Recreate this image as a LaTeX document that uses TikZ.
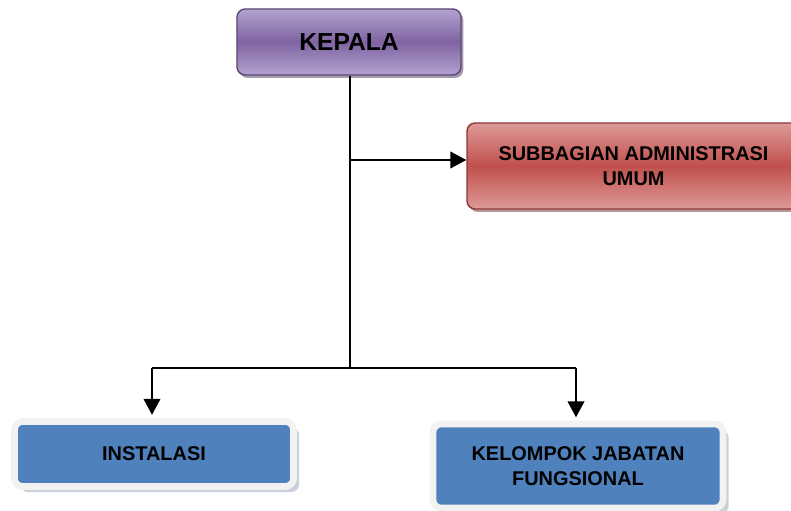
\documentclass[tikz,border=0pt]{standalone}
\usepackage{fontspec}
\setmainfont{Liberation Sans}
\usetikzlibrary{positioning,shadows,arrows.meta}
\definecolor{unguk}{HTML}{8064A2}
\definecolor{ungum}{HTML}{B3A2CF}
\definecolor{ungug}{HTML}{5C4776}
\definecolor{merahk}{HTML}{C0504D}
\definecolor{merahm}{HTML}{DE9A98}
\definecolor{merahg}{HTML}{8C3836}
\definecolor{birud}{HTML}{4F81BD}
\definecolor{tepi}{HTML}{F2F2F2}
\definecolor{bayang}{HTML}{97A3B6}

\begin{document}
\begin{tikzpicture}[x=0.03cm,y=-0.03cm,
    kotak/.style={rounded corners=7pt, align=center, inner sep=0pt,
      font=\bfseries\fontsize{17}{21}\selectfont},
    ungu/.style={kotak, draw=ungug, line width=1.2pt, top color=ungum, bottom color=ungum,
      middle color=unguk, drop shadow={shadow xshift=2pt, shadow yshift=-2.5pt, fill=ungug!80!black}},
    merah/.style={kotak, draw=merahg, line width=1.2pt, top color=merahm, bottom color=merahm,
      middle color=merahk, drop shadow={shadow xshift=2pt, shadow yshift=-2.5pt, fill=merahg!80!black}},
    biru/.style={kotak, draw=tepi, line width=0.2cm, fill=birud,
      drop shadow={shadow xshift=0.17cm, shadow yshift=-0.17cm, fill=bayang}},
    garis/.style={line width=1.6pt},
    panah/.style={garis, -{Triangle[length=0.48cm,width=0.5cm]}}]
  \useasboundingbox (0,0) rectangle (791,511);
        \node [ungu, minimum width=6.72cm, minimum height=1.98cm,
          font=\bfseries\fontsize{21}{24}\selectfont] (1) at (349,42) {KEPALA};
        \node [merah, minimum width=9.99cm, minimum height=2.58cm] (2) at (633.5,166)
          {SUBBAGIAN ADMINISTRASI\\UMUM};
        \node [biru, minimum width=8.37cm, minimum height=1.95cm] (3) at (154,454) {INSTALASI};
        \node [biru, minimum width=8.7cm, minimum height=2.52cm] (4) at (578,466)
          {KELOMPOK JABATAN\\FUNGSIONAL};
        % titik cabang
        \coordinate (a) at (350,160);
        \coordinate (b) at (350,368);
        \coordinate (c) at (152,368);
        \coordinate (d) at (576,368);
        \draw[garis] (1.south -| b) -- (b);
        \draw[panah] (a) -- (a -| 2.west);
        \draw[garis] (c) -- (d);
        \draw[panah, shorten >=0.1cm] (c) -- (c |- 3.north);
        \draw[panah, shorten >=0.1cm] (d) -- (d |- 4.north);
      \end{tikzpicture}
\end{document}
